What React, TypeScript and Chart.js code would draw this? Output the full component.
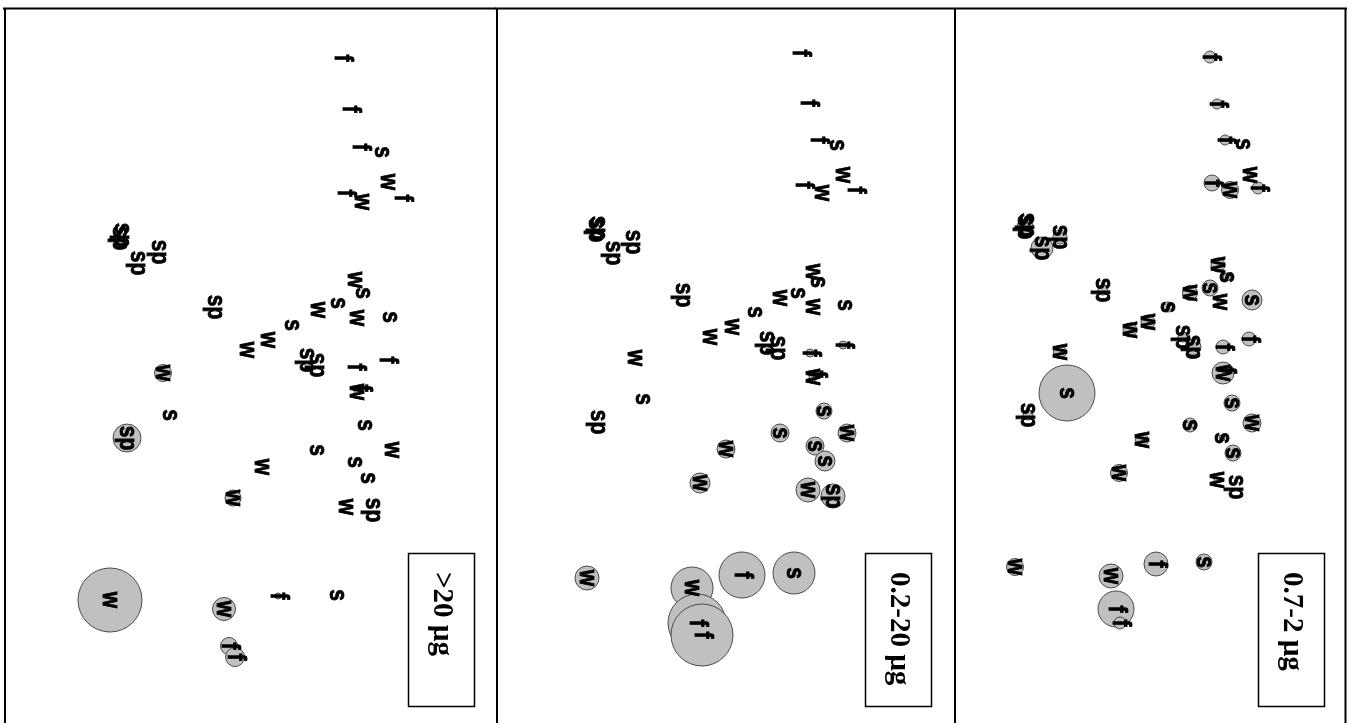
import React, { useEffect, useRef } from "react";
import { Chart, registerables } from "chart.js";
Chart.register(...registerables);

// Sample labels (same samples in every panel): w, s, f, sp
const LABELS = ["f","f","f","s","w","f","f","w","sp","sp","sp","sp","sp","w","s","s","w","w","s","s","w","w","sp","sp","f","f","w","f","s","w","s","s","s","w","sp","w","w","w","s","sp","w","w","f","f","f","s"];

// Panel ">20 µg"
const P1_X = [33.8,34.6,35.6,37.8,38.4,39.8,34.1,35.8,11.6,11.8,13.4,15.5,21.1,35.1,35.9,33.4,31.4,35.3,38.6,28.8,26.4,24.3,30.3,31.3,38.3,35.1,35.3,35.7,36.1,38.8,31.3,35.1,36.4,34.2,36.9,25.8,22.9,15.9,16.6,12.3,10.6,22.0,22.5,23.1,27.4,33.3];
const P1_Y = [5.8,10.9,14.7,15.2,18.2,19.8,19.3,20.2,23.8,23.5,26.3,25.2,30.7,28.0,29.3,30.3,31.0,31.8,31.7,32.5,34.0,35.0,36.0,36.5,36.0,36.7,39.2,38.8,42.5,45.0,45.0,46.2,47.8,50.7,51.0,46.7,49.8,37.3,41.5,43.8,60.0,60.9,64.6,65.7,59.6,59.5];
const P1_R = [0,0,0,0,0,0,0,0,0,0,0,0,0,0,0,0,0,0,0,0,0,0,0,0,0,0,3,0,0,0,0,0,0,0,0,0,8,8.5,0,14,32,11.5,8.5,9.5,3,0];

// Panel "0.2-20 µg"
const P2_X = [30.3,31.1,32.1,34.0,34.6,35.8,30.6,32.5,9.9,10.1,11.6,13.6,18.6,31.6,32.1,30.1,28.3,31.6,34.8,25.8,23.5,21.3,27.0,28.1,34.6,31.3,31.6,31.9,32.7,35.0,28.3,31.8,32.8,31.1,33.6,22.9,20.3,13.8,14.6,10.1,9.0,19.5,20.0,20.5,24.5,29.7];
const P2_Y = [5.3,10.3,14.0,14.5,17.5,19.0,18.5,19.3,23.0,22.8,25.3,24.2,29.5,27.2,28.2,29.3,29.8,30.7,30.5,31.2,32.7,33.7,34.3,34.8,34.5,35.3,37.7,37.4,41.1,43.3,43.3,44.6,46.1,49.0,49.6,44.9,48.3,35.8,39.9,42.2,57.8,58.8,62.3,63.5,57.5,57.3];
const P2_R = [0,0,0,0,0,0,0,0,0,0,0,0,0,0,0,0,0,0,0,0,0,0,0,0,4,4,4,0,8,9,9,9,10,12,12,9,10,0,0,0,12,21,29,31,23,21];

// Panel "0.7-2 µg"
const P3_X = [25.5,26.2,27.0,28.8,29.5,30.3,25.7,27.5,7.0,7.2,8.7,10.5,14.8,26.3,27.2,25.5,23.5,26.5,29.7,21.3,19.3,17.5,22.8,23.8,29.4,26.8,26.8,27.0,27.7,29.7,23.5,26.7,27.8,26.2,28.1,18.7,16.4,10.5,11.2,7.3,6.0,15.6,16.1,16.5,20.1,24.9];
const P3_Y = [5.7,10.4,14.0,14.4,17.5,18.8,18.3,19.0,22.7,22.5,24.8,23.7,29.0,26.5,27.7,28.8,29.3,30.2,30.0,30.7,32.2,33.0,33.7,34.7,33.9,34.7,37.3,37.0,40.3,42.3,42.5,43.8,45.3,48.0,48.7,44.0,47.3,35.2,39.3,41.5,56.7,57.6,60.9,62.3,56.4,56.2];
const P3_R = [6,5,5,0,3,6,8,8.5,8,6,11,7,5,7,4,8,7.5,3,10,5,7,7,5,8,7,7,11,0,8,9,7,3,8,3,0,6.5,8.5,6.5,28,5,8.5,12,18,6,12,8];

const TITLES = [">20 µg", "0.2-20 µg", "0.7-2 µg"];

type PanelProps = {
  left: number; width: number; xmin: number; last: boolean;
  xs: number[]; ys: number[]; rs: number[]; title: string;
};

function Panel({ left, width, xmin, last, xs, ys, rs, title }: PanelProps) {
  const ref = useRef<HTMLCanvasElement>(null);
  useEffect(() => {
    const H = 723;
    const deco = {
      id: "deco",
      afterDatasetsDraw(chart: any) {
        const ctx = chart.ctx;
        const meta = chart.getDatasetMeta(0);
        ctx.save();
        ctx.fillStyle = "#000";
        ctx.strokeStyle = "#000";
        ctx.lineWidth = 0.7;
        ctx.font = 'bold 21px "Liberation Sans", Arial, sans-serif';
        ctx.textAlign = "center";
        ctx.textBaseline = "middle";
        meta.data.forEach((el: any, i: number) => {
          ctx.save();
          ctx.translate(el.x, el.y);
          ctx.rotate(Math.PI / 2);
          ctx.scale(1, 1.2);
          ctx.fillText(LABELS[i], 0, 0);
          ctx.strokeText(LABELS[i], 0, 0);
          ctx.restore();
        });
        ctx.restore();
      },
      afterDraw(chart: any) {
        const ctx = chart.ctx;
        const W = chart.width;
        ctx.save();
        ctx.strokeStyle = "#000";
        ctx.lineWidth = 2;
        ctx.beginPath();
        ctx.moveTo(0, 8.5); ctx.lineTo(W, 8.5);
        ctx.moveTo(2, 8.5); ctx.lineTo(2, H);
        if (last) { ctx.moveTo(W - 1.5, 8.5); ctx.lineTo(W - 1.5, H); }
        ctx.stroke();
        // title box
        const bw = 66, bh = 153;
        const bx = W - (last ? 23 : 22) - bw, by = 553;
        ctx.fillStyle = "#fff";
        ctx.fillRect(bx, by, bw, bh);
        ctx.lineWidth = 1.5;
        ctx.strokeRect(bx + 0.5, by + 0.5, bw, bh);
        ctx.fillStyle = "#000";
        ctx.font = 'bold 29px "Liberation Serif", "Times New Roman", serif';
        ctx.textAlign = "left";
        ctx.textBaseline = "middle";
        ctx.translate(bx + bw / 2, by + 19);
        ctx.rotate(Math.PI / 2);
        ctx.fillText(title, 0, 0);
        ctx.restore();
      },
    };
    const chart = new Chart(ref.current!, {
      type: "bubble",
      data: {
        datasets: [{
          data: LABELS.map((_, i) => ({ x: xs[i], y: ys[i], r: rs[i] })),
          backgroundColor: "#c0c0c0",
          borderColor: "#4a4a4a",
          borderWidth: 1,
        }],
      },
      options: {
        responsive: false,
        animation: false,
        events: [],
        layout: { padding: 0, autoPadding: false },
        clip: false as any,
        plugins: { legend: { display: false }, tooltip: { enabled: false } },
        scales: {
          x: { type: "linear", display: false, min: xmin, max: xmin + width / 10 },
          y: { type: "linear", display: false, min: 0, max: H / 10, reverse: true },
        },
      },
      plugins: [deco],
    });
    return () => chart.destroy();
  }, []);
  return (
    <canvas
      ref={ref}
      width={width}
      height={723}
      style={{ position: "absolute", left, top: 0, width, height: 723 }}
    />
  );
}

export default function App() {
  return (
    <div style={{ position: "fixed", left: 0, top: 0, width: 1352, height: 723, background: "#fff", overflow: "hidden" }}>
      <Panel left={3} width={493} xmin={-0.1} last={false} xs={P1_X} ys={P1_Y} rs={P1_R} title={TITLES[0]} />
      <Panel left={495} width={458} xmin={-0.2} last={false} xs={P2_X} ys={P2_Y} rs={P2_R} title={TITLES[1]} />
      <Panel left={953} width={394} xmin={-0.2} last={true} xs={P3_X} ys={P3_Y} rs={P3_R} title={TITLES[2]} />
    </div>
  );
}
